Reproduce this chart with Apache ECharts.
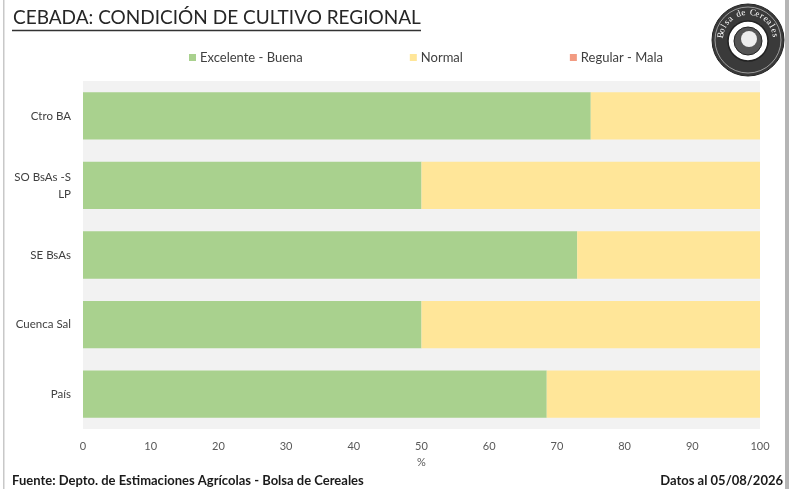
<!DOCTYPE html>
<html><head><meta charset="utf-8">
<script src="https://cdn.jsdelivr.net/npm/echarts@6/dist/echarts.min.js"></script>
<style>html,body{margin:0;padding:0;background:#fff}#c{width:789px;height:489px}</style>
</head><body><div id="c"></div>
<script>
var categories = ['Ctro BA', 'SO BsAs -S\nLP', 'SE BsAs', 'Cuenca Sal', 'País'];
var excelenteBuena = [75, 50, 73, 50, 68.5];
var normal = [25, 50, 27, 50, 31.5];
var regularMala = [0, 0, 0, 0, 0];
var xTicks = [0, 10, 20, 30, 40, 50, 60, 70, 80, 90, 100];

var chart = echarts.init(document.getElementById('c'));
var FONT = 'Lato';

// seal logo decoration
var cx = 748, cy = 40, R = 36;
var logo = [
  {type:'circle', shape:{cx:cx, cy:cy, r:R}, style:{fill:'#3a3a3a', stroke:'#222', lineWidth:1}},
  {type:'circle', shape:{cx:cx, cy:cy, r:R-3}, style:{fill:'none', stroke:'#ddd', lineWidth:0.6}},
  {type:'circle', shape:{cx:cx, cy:cy+1, r:20}, style:{fill:'#fff', stroke:'#222', lineWidth:1.5}},
  {type:'circle', shape:{cx:cx, cy:cy+1, r:14}, style:{fill:'#555', stroke:'#222', lineWidth:1}},
  {type:'circle', shape:{cx:cx+1, cy:cy-1, r:8}, style:{fill:'#eee'}}
];
var word = 'Bolsa de Cereales';
var a0 = -170, a1 = -10;
for (var i = 0; i < word.length; i++) {
  var a = (a0 + (a1 - a0) * i / (word.length - 1)) * Math.PI / 180;
  var rr = 27.5;
  logo.push({type:'text', x: cx + rr*Math.cos(a), y: cy + rr*Math.sin(a), rotation: -(a + Math.PI/2),
    style:{text: word[i], fill:'#fff', font:'9px "Liberation Serif"', align:'center', verticalAlign:'middle'}});
}

chart.setOption({
  animation: false,
  textStyle: {fontFamily: FONT},
  color: ['#a9d18e', '#ffe699', '#f29b82'],
  title: {
    text: 'CEBADA: CONDICIÓN DE CULTIVO REGIONAL',
    left: 13, top: 8, padding: 0,
    textStyle: {fontFamily: FONT, fontSize: 19, fontWeight: 'normal', color: '#262626'}
  },
  legend: {
    top: 46, left: 184, itemGap: 107,
    itemWidth: 7, itemHeight: 7, icon: 'rect',
    textStyle: {fontSize: 13, color: '#404040', fontFamily: FONT, padding: [0, 0, 0, -1]},
    data: ['Excelente - Buena', 'Normal', 'Regular - Mala']
  },
  grid: {left: 83, right: 29, top: 81, bottom: 60, show: true, backgroundColor: '#f2f2f2', borderWidth: 0},
  xAxis: {
    type: 'value', min: 0, max: 100, interval: 10,
    name: '%', nameLocation: 'middle', nameGap: 28,
    nameTextStyle: {fontSize: 11, color: '#595959'},
    axisLine: {show: false}, axisTick: {show: false}, splitLine: {show: false},
    axisLabel: {fontSize: 11, color: '#595959', margin: 12,
      formatter: function (v) { return xTicks.indexOf(v) >= 0 ? String(v) : ''; }}
  },
  yAxis: {
    type: 'category', data: categories, inverse: true,
    axisLine: {show: false}, axisTick: {show: false},
    axisLabel: {fontSize: 11.5, color: '#404040', margin: 12, lineHeight: 17}
  },
  series: [
    {name: 'Excelente - Buena', type: 'bar', stack: 't', data: excelenteBuena, barWidth: '68%'},
    {name: 'Normal', type: 'bar', stack: 't', data: normal, barWidth: '68%'},
    {name: 'Regular - Mala', type: 'bar', stack: 't', data: regularMala, barWidth: '68%'}
  ],
  graphic: [
    {type:'line', shape:{x1:12, y1:30.5, x2:421, y2:30.5}, style:{stroke:'#333', lineWidth:1.5}},
    {type:'rect', shape:{x:3, y:0, width:1.5, height:489}, style:{fill:'#c8c8c8'}},
    {type:'rect', shape:{x:785, y:0, width:4, height:489}, style:{fill:'#b5b5b5'}},
    {type:'text', left: 12, top: 474, style:{text:'Fuente: Depto. de Estimaciones Agrícolas - Bolsa de Cereales', font:'bold 13px Lato', fill:'#1a1a1a'}},
    {type:'text', right: 6, top: 474, style:{text:'Datos al 05/08/2026', font:'bold 13px Lato', fill:'#1a1a1a'}}
  ].concat(logo)
});
</script></body></html>
